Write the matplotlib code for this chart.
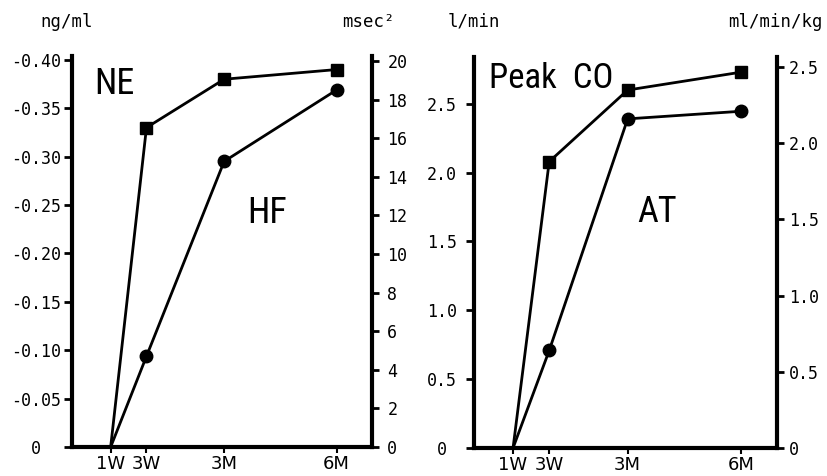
import numpy as np
import matplotlib

matplotlib.use("Agg")
import matplotlib.pyplot as plt
from matplotlib import font_manager

# Puntos de seguimiento
periods = ["1W", "3W", "3M", "6M"]

# Panel izquierdo: cambio de NE (ng/ml) y potencia HF (msec^2)
ne_values = [0.0, -0.33, -0.38, -0.39]
hf_values = [0.0, 4.7, 14.8, 18.5]

# Panel derecho: Peak CO (l/min) y AT (ml/min/kg)
co_values = [0.0, 2.08, 2.60, 2.73]
at_values = [0.0, 0.64, 2.16, 2.21]

ne_ticks = [0, -0.05, -0.10, -0.15, -0.20, -0.25, -0.30, -0.35, -0.40]
ne_labels = ["0", "-0.05", "-0.10", "-0.15", "-0.20", "-0.25", "-0.30",
             "-0.35", "-0.40"]
hf_ticks = [0, 2, 4, 6, 8, 10, 12, 14, 16, 18, 20]
co_ticks = [0, 0.5, 1.0, 1.5, 2.0, 2.5]
co_labels = ["0", "0.5", "1.0", "1.5", "2.0", "2.5"]
at_ticks = [0, 0.5, 1.0, 1.5, 2.0, 2.5]
at_labels = ["0", "0.5", "1.0", "1.5", "2.0", "2.5"]

# posicion horizontal de cada periodo (escala no lineal del eje)
x_pos = np.array([0.0, 1.0, 3.17, 6.31])

W, H = 828, 476
MONO = "DejaVu Sans Mono"

# fuente estrecha para los rotulos grandes, la primera que este instalada
instaladas = {f.name for f in font_manager.fontManager.ttflist}
NARROW = next(n for n in ["Liberation Sans Narrow", "Roboto Condensed",
                          "Open Sans Condensed", "Roboto", "DejaVu Sans"]
              if n in instaladas)


def rect(x0, y_top, x1, y_bot):
    return [x0 / W, 1 - y_bot / H, (x1 - x0) / W, (y_bot - y_top) / H]


def panel(box, left_vals, right_vals, left_lim, right_lim,
          left_ticks, left_labels, right_ticks, right_labels,
          left_pad, right_pad):
    ax = fig.add_axes(box)
    ax2 = ax.twinx()

    for a in (ax, ax2):
        a.set_xlim(-1.08, 7.3)
        for s in a.spines.values():
            s.set_visible(False)
            s.set_linewidth(3)
    ax.spines["left"].set_visible(True)
    ax.spines["bottom"].set_visible(True)
    ax2.spines["right"].set_visible(True)

    ax.set_ylim(*left_lim)
    ax2.set_ylim(*right_lim)

    ax.plot(x_pos, left_vals, color="black", lw=2, marker="s", ms=9,
            markevery=[1, 2, 3], solid_joinstyle="miter")
    ax2.plot(x_pos, right_vals, color="black", lw=2, marker="o", ms=9,
             markevery=[1, 2, 3])

    ax.set_xticks(x_pos, periods)
    ax.tick_params(axis="x", length=4, width=1.5, pad=2, labelsize=13)

    ax.set_yticks(left_ticks, left_labels)
    ax.tick_params(axis="y", length=6, width=2, pad=left_pad,
                   labelsize=12, labelfontfamily=MONO)
    for lbl in ax.get_yticklabels():
        lbl.set_horizontalalignment("center")

    ax2.set_yticks(right_ticks, right_labels)
    ax2.tick_params(axis="y", length=5, width=2, pad=right_pad,
                    labelsize=12, labelfontfamily=MONO)
    return ax, ax2


fig = plt.figure(figsize=(W / 100, H / 100), dpi=100)

axl, axl2 = panel(rect(72, 56, 372, 447), ne_values, hf_values,
                  (0, -0.404), (0, 20.26),
                  ne_ticks, ne_labels, hf_ticks, [str(t) for t in hf_ticks],
                  left_pad=20, right_pad=6)
axl.text(0.14, 0.928, "NE", transform=axl.transAxes, fontsize=26,
         family=NARROW, ha="center", va="center")
axl.text(0.65, 0.598, "HF", transform=axl.transAxes, fontsize=26,
         family=NARROW, ha="center", va="center")

axr, axr2 = panel(rect(474, 57, 777, 448), co_values, at_values,
                  (0, 2.84), (0, 2.566),
                  co_ticks, co_labels, at_ticks, at_labels,
                  left_pad=17, right_pad=3.5)
axr.text(0.254, 0.946, "Peak  CO", transform=axr.transAxes, fontsize=25,
         family=NARROW, ha="center", va="center")
axr.text(0.604, 0.604, "AT", transform=axr.transAxes, fontsize=26,
         family=NARROW, ha="center", va="center")

# unidades sobre cada eje
for txt, xc in [("ng/ml", 67), ("msec²", 368), ("l/min", 474),
                ("ml/min/kg", 775)]:
    fig.text(xc / W, 1 - 22 / H, txt, fontsize=12.5, family=MONO,
             ha="center", va="center")

fig.savefig("out.png", dpi=100)
